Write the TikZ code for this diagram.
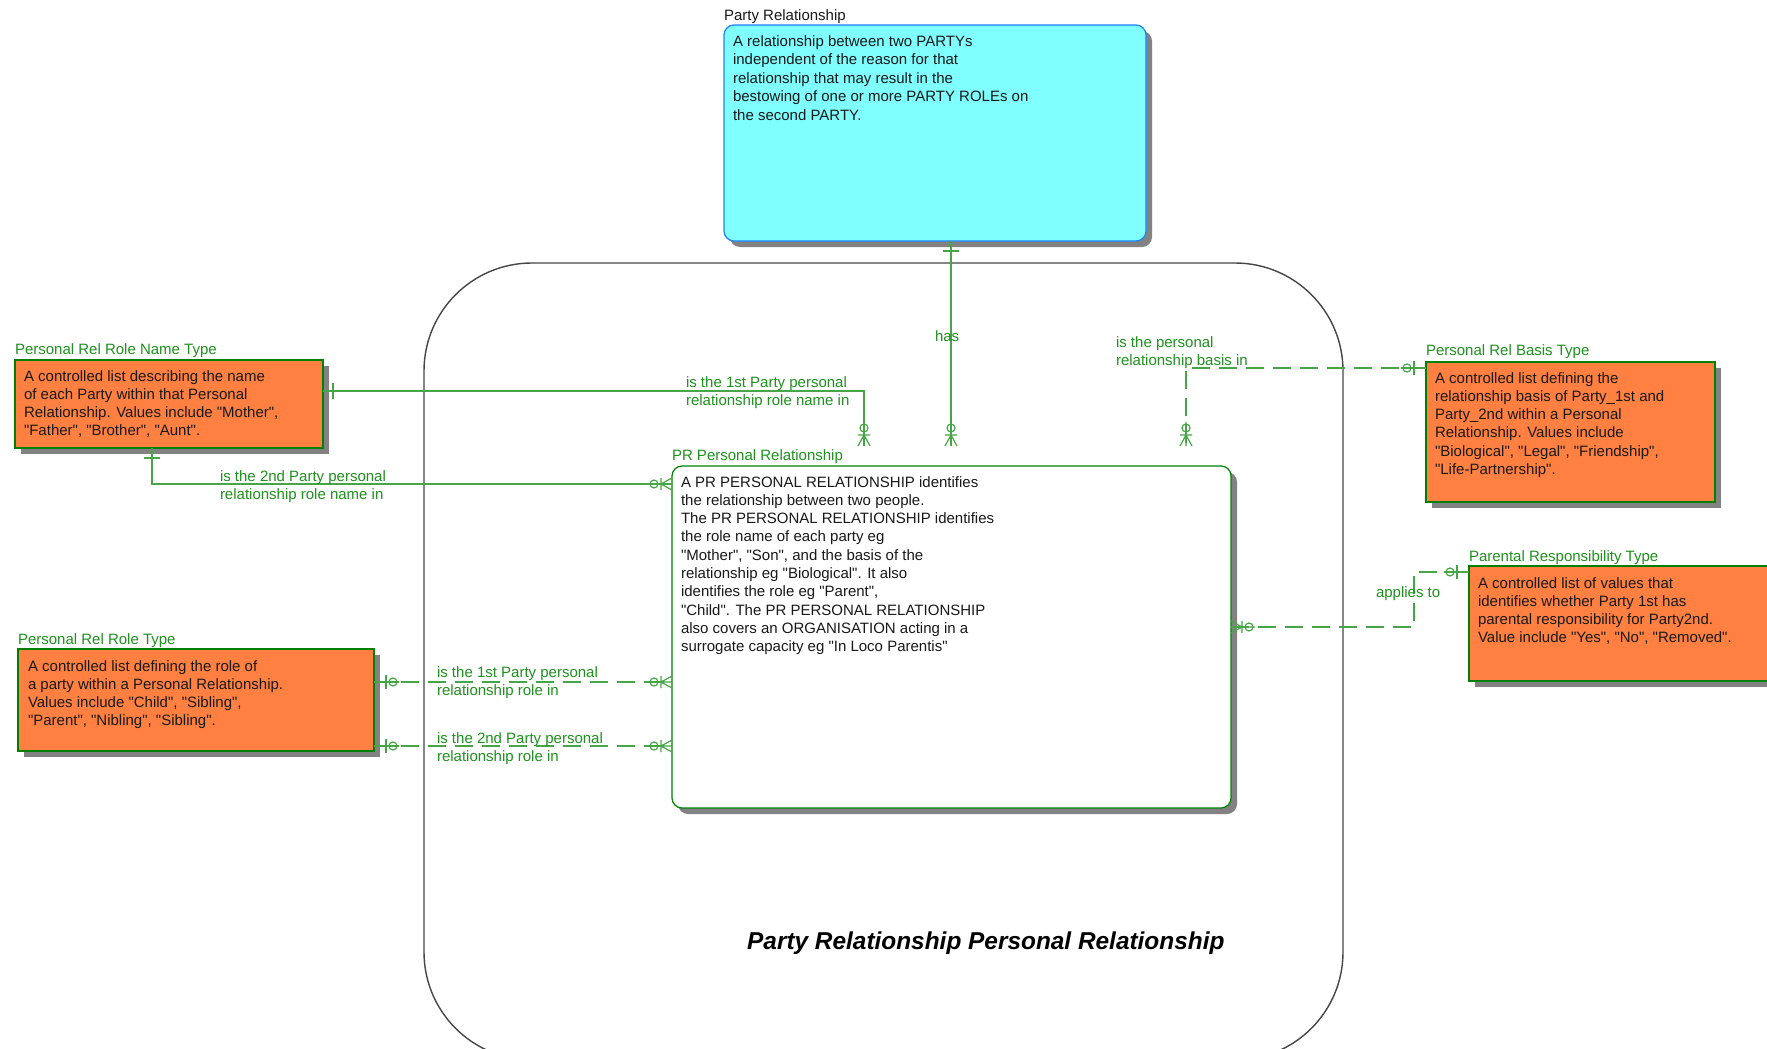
\documentclass[tikz,border=0pt]{standalone}
\usepackage{fontspec}
\setmainfont{Liberation Sans}[Ligatures=TeXOff]
\usetikzlibrary{calc,shadows}
\definecolor{erorange}{RGB}{255,128,64}
\definecolor{ercyan}{RGB}{128,255,255}
\definecolor{erblue}{RGB}{30,130,255}
\definecolor{erborder}{RGB}{0,128,0}
\definecolor{ertext}{RGB}{30,145,30}
\definecolor{erline}{RGB}{70,165,70}
\definecolor{ershadow}{RGB}{130,130,130}
\definecolor{areaedge}{RGB}{70,70,70}
\definecolor{erblack}{RGB}{25,25,25}
\tikzset{
  shadowed/.style={drop shadow={shadow xshift=6pt,shadow yshift=-6pt,fill=ershadow,opacity=1}},
  entity/.style={draw=erborder,line width=1.2pt,fill=erorange,anchor=north west,inner sep=0pt,outer sep=0pt,shadowed},
  whitebox/.style={draw=erborder,line width=1.2pt,fill=white,rounded corners=10pt,anchor=north west,inner sep=0pt,outer sep=0pt,shadowed},
  cyanbox/.style={draw=erblue,line width=1.2pt,fill=ercyan,rounded corners=10pt,anchor=north west,inner sep=0pt,outer sep=0pt,shadowed},
  body/.style={anchor=north west,inner sep=0pt,outer sep=0pt,align=left,text=erblack,font=\fontsize{15}{18.3}\selectfont},
  etitle/.style={anchor=base west,inner sep=0pt,outer sep=0pt,text=ertext,font=\fontsize{15}{18.3}\selectfont},
  rlabel/.style={anchor=north west,inner sep=0pt,outer sep=0pt,align=left,text=ertext,font=\fontsize{15}{18.3}\selectfont},
  conn/.style={draw=erline,line width=1.2pt},
  dconn/.style={conn,dash pattern=on 18pt off 9pt},
  erm/.style={draw=erline,line width=1.2pt},
}
% crow's foot with circle and bar: point, outward dx, outward dy
\newcommand{\ermany}[3]{%
  \draw[erm] ($(#1)+({6*(#3)},{-6*(#2)})$) -- ($(#1)+({11*(#2)},{11*(#3)})$) -- ($(#1)+({-6*(#3)},{6*(#2)})$)
    (#1) -- ($(#1)+({24*(#2)},{24*(#3)})$)
    ($(#1)+({11*(#2)+6*(#3)},{11*(#3)-6*(#2)})$) -- ($(#1)+({11*(#2)-6*(#3)},{11*(#3)+6*(#2)})$);
  \draw[erm] ($(#1)+({18*(#2)},{18*(#3)})$) circle[radius=4];}
% zero or one
\newcommand{\erzone}[3]{%
  \draw[erm] (#1) -- ($(#1)+({25*(#2)},{25*(#3)})$)
    ($(#1)+({12*(#2)+7*(#3)},{12*(#3)-7*(#2)})$) -- ($(#1)+({12*(#2)-7*(#3)},{12*(#3)+7*(#2)})$);
  \draw[erm] ($(#1)+({19*(#2)},{19*(#3)})$) circle[radius=4];}
% exactly one
\newcommand{\erone}[3]{%
  \draw[erm] ($(#1)+({10*(#2)+8*(#3)},{10*(#3)-8*(#2)})$) -- ($(#1)+({10*(#2)-8*(#3)},{10*(#3)+8*(#2)})$);}
\begin{document}
\begin{tikzpicture}[x=1pt,y=-1pt]
\useasboundingbox (0,0) rectangle (1767,1049);
\fill[white] (0,0) rectangle (1767,1049);
\clip (0,0) rectangle (1767,1049);

% subject area
\draw[areaedge,line width=1.4pt,rounded corners=108pt] (424,263) rectangle (1343,1060);

% entities
\node[cyanbox,minimum width=422pt,minimum height=216pt] (pr0) at (724,25) {};
\node[entity,minimum width=308pt,minimum height=88pt] (rnt) at (15,360) {};
\node[whitebox,minimum width=559pt,minimum height=342pt] (ppr) at (672,466) {};
\node[entity,minimum width=289pt,minimum height=140pt] (bt) at (1426,362) {};
\node[entity,minimum width=330pt,minimum height=115pt] (prt) at (1469,566) {};
\node[entity,minimum width=356pt,minimum height=102pt] (rt) at (18,649) {};

% entity titles
\node[etitle,text=erblack] (pr0n) at (724,20.5) {Party Relationship};
\node[etitle] (rntn) at (15,354) {Personal Rel Role Name Type};
\node[etitle] (pprn) at (672,460) {PR Personal Relationship};
\node[etitle] (btn) at (1426,355) {Personal Rel Basis Type};
\node[etitle] (prtn) at (1469,561) {Parental Responsibility Type};
\node[etitle] (rtn) at (18,644) {Personal Rel Role Type};

% entity texts
\node[body,font=\fontsize{15}{18.5}\selectfont] (pr0t) at (733,35.2) {A relationship between two PARTYs\\independent of the reason for that\\relationship that may result in the\\bestowing of one or more PARTY ROLEs on\\the second PARTY.};
\node[body] (rntt) at (24,370.2) {A controlled list describing the name\\of each Party within that Personal\\Relationship. Values include "Mother",\\"Father", "Brother", "Aunt".};
\node[body] (pprt) at (681,476.2) {A PR PERSONAL RELATIONSHIP identifies\\the relationship between two people.\\The PR PERSONAL RELATIONSHIP identifies\\the role name of each party eg\\"Mother", "Son", and the basis of the\\relationship eg "Biological". It also\\identifies the role eg "Parent",\\"Child". The PR PERSONAL RELATIONSHIP\\also covers an ORGANISATION acting in a\\surrogate capacity eg "In Loco Parentis"};
\node[body] (btt) at (1435,372.2) {A controlled list defining the\\relationship basis of Party\_1st and\\Party\_2nd within a Personal\\Relationship. Values include\\"Biological", "Legal", "Friendship",\\"Life-Partnership".};
\node[body] (prtt) at (1478,577.2) {A controlled list of values that\\identifies whether Party 1st has\\parental responsibility for Party2nd.\\Value include "Yes", "No", "Removed".};
\node[body] (rtt) at (28,660.2) {A controlled list defining the role of\\a party within a Personal Relationship.\\Values include "Child", "Sibling",\\"Parent", "Nibling", "Sibling".};

% connector end points
\coordinate (c1s) at ($(pr0.south west)+(227,0)$);
\coordinate (c1e) at ($(ppr.north west)+(279,-20)$);
\coordinate (c2s) at ($(rnt.north east)+(0,31)$);
\coordinate (c2e) at ($(ppr.north west)+(192,-20)$);
\coordinate (c3s) at ($(rnt.south west)+(137,0)$);
\coordinate (c3e) at ($(ppr.north west)+(0,18)$);
\coordinate (c4s) at ($(bt.north west)+(0,6)$);
\coordinate (c4e) at ($(ppr.north west)+(514,-20)$);
\coordinate (c5s) at ($(ppr.north east)+(0,161)$);
\coordinate (c5e) at ($(prt.north west)+(0,6)$);
\coordinate (c6s) at ($(rt.north east)+(0,33)$);
\coordinate (c6e) at ($(ppr.north west)+(0,216)$);
\coordinate (c7s) at ($(rt.north east)+(0,97)$);
\coordinate (c7e) at ($(ppr.north west)+(0,280)$);

% connectors
\draw[conn] (c1s) -- (c1e);
\draw[conn] (c2s) -| (c2e);
\draw[conn] (c3s) |- (c3e);
\draw[dconn] (c4s) -| (c4e);
\draw[dconn] (c5s) -| ($(c5e)+(-55,0)$) -- (c5e);
\draw[dconn] (c6s) -- (c6e);
\draw[dconn] (c7s) -- (c7e);

% cardinality marks
\erone{c1s}{0}{1}  \ermany{c1e}{0}{-1}
\erone{c2s}{1}{0}  \ermany{c2e}{0}{-1}
\erone{c3s}{0}{1}  \ermany{c3e}{-1}{0}
\erzone{c4s}{-1}{0} \ermany{c4e}{0}{-1}
\ermany{c5s}{1}{0} \erzone{c5e}{-1}{0}
\erzone{c6s}{1}{0} \ermany{c6e}{-1}{0}
\erzone{c7s}{1}{0} \ermany{c7e}{-1}{0}

% relationship labels
\node[etitle] (l1) at (935,341) {has};
\node[rlabel] (l2) at (686,376.2) {is the 1st Party personal\\relationship role name in};
\node[rlabel] (l3) at (220,470.2) {is the 2nd Party personal\\relationship role name in};
\node[rlabel] (l4) at (1116,336.2) {is the personal\\relationship basis in};
\node[etitle] (l5) at (1376,597) {applies to};
\node[rlabel] (l6) at (437,666.2) {is the 1st Party personal\\relationship role in};
\node[rlabel] (l7) at (437,732.2) {is the 2nd Party personal\\relationship role in};

% diagram title
\node[anchor=base west,inner sep=0pt,text=black,font=\fontsize{24.4}{28}\selectfont\bfseries\itshape] (title) at (747,949) {Party Relationship Personal Relationship};
\end{tikzpicture}
\end{document}
